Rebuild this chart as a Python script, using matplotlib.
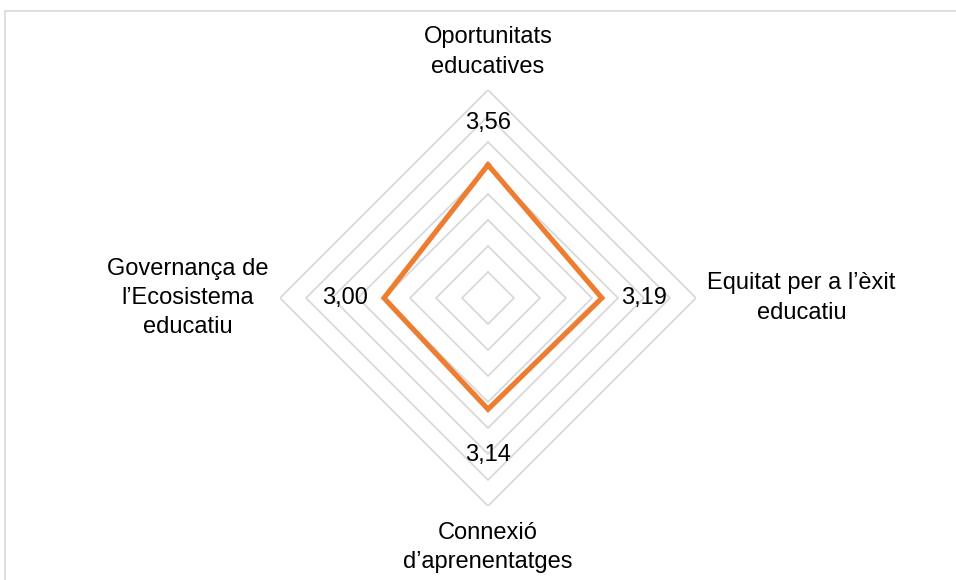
import numpy as np
import matplotlib
matplotlib.use('Agg')
import matplotlib.pyplot as plt
from matplotlib.lines import Line2D

# dades del gràfic
categories = ['Oportunitats\neducatives', 'Equitat per a l\u2019èxit\neducatiu',
              'Connexió\nd\u2019aprenentatges', 'Governança de\nl\u2019Ecosistema\neducatiu']
values = [3.56, 3.19, 3.14, 3.00]
value_labels = ['3,56', '3,19', '3,14', '3,00']
rings = [1.5, 2.0, 2.5, 3.0, 3.5, 4.0, 4.5, 5.0]

plt.rcParams['font.family'] = ['Liberation Sans', 'DejaVu Sans']

W, H = 956, 580
fig = plt.figure(figsize=(W / 100, H / 100), dpi=100)

# marc gris
fig.add_artist(Line2D([4.5 / W, 4.5 / W], [0, 1 - 10.5 / H], color='#d9d9d9', lw=1.2))
fig.add_artist(Line2D([4.5 / W, 1], [1 - 10.5 / H, 1 - 10.5 / H], color='#d9d9d9', lw=1.2))

cx, cy, R = 488, 298, 208
ax = fig.add_axes([(cx - R) / W, (H - cy - R) / H, 2 * R / W, 2 * R / H], projection='polar')
ax.set_theta_zero_location('N')
ax.set_theta_direction(-1)
ax.set_ylim(1, 5)
ax.grid(False)
ax.set_xticks([])
ax.set_yticks([])
ax.spines['polar'].set_visible(False)
ax.patch.set_alpha(0)

angles = np.linspace(0, 2 * np.pi, len(categories), endpoint=False)
closed = np.append(angles, angles[0])

# anells de la graella
for r in rings:
    ax.plot(closed, [r] * len(closed), color='#d9d9d9', lw=1.3, zorder=1)

# sèrie
ax.plot(closed, values + values[:1], color='#ed7d31', lw=3.7, zorder=3,
        solid_joinstyle='miter')

# etiquetes de dades
offsets = [(0, 30), (30, 0), (0, -33), (-28, 0)]
for a, v, t, off in zip(angles, values, value_labels, offsets):
    ax.annotate(t, (a, v), xytext=off, textcoords='offset points',
                ha='center', va='center', fontsize=17, color='#000000', zorder=4)

# etiquetes de categoria
cat_r = [5.73, 7.03, 5.8, 6.77]
for a, c, r in zip(angles, categories, cat_r):
    ax.text(a, r, c, ha='center', va='center', fontsize=17, linespacing=1.42,
            color='#000000')

fig.savefig('out.png', dpi=100)
